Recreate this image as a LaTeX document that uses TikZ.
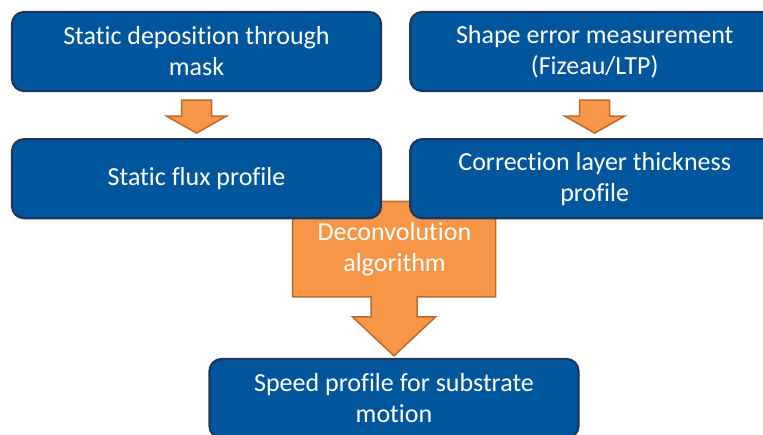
\documentclass[tikz,border=0pt]{standalone}
\usepackage{fontspec}
\setmainfont{Carlito}[Ligatures=NoCommon]
\usepackage{tikz}
\usetikzlibrary{positioning, calc, backgrounds}
\definecolor{myblue}{RGB}{0,86,157}
\definecolor{mynavy}{RGB}{30,55,95}
\definecolor{myorange}{RGB}{247,150,70}
\definecolor{myrust}{RGB}{186,108,48}
\tikzset{
  block/.style={rectangle, draw=mynavy, fill=myblue, text=white,
    minimum width=369pt, minimum height=79pt, align=center,
    font=\fontsize{26}{31}\selectfont, rounded corners=12pt, line width=2.2pt},
  fatarrow/.style={draw=myrust, fill=myorange, line width=1.5pt, line join=miter},
  arrowtext/.style={text=white, align=center, font=\fontsize{26}{31}\selectfont}
}
\newcommand{\smallarrow}[2]{%
  \draw[fatarrow] let \p1=(#1.south), \p2=(#2.north) in
    (\x1-15pt,\y1-8pt) -- (\x1+15pt,\y1-8pt) -- (\x1+15pt,\y2+22pt)
    -- (\x1+30pt,\y2+22pt) -- (\x1,\y2+5pt) -- (\x1-30pt,\y2+22pt)
    -- (\x1-15pt,\y2+22pt) -- cycle;}

\begin{document}
\begin{tikzpicture}[x=1pt, y=1pt, node distance=46pt and 27pt]
  \useasboundingbox (0,0) rectangle (763,434);
  \clip (0,0) rectangle (763,434);
  \node[block] (dep) at (196.5,382.5) {Static deposition through\\mask};
  \node[block, right=of dep] (meas) {Shape error measurement\\(Fizeau/LTP)};
  \node[block, below=of dep] (flux) {Static flux profile};
  \node[block, below=of meas] (corr) {Correction layer thickness\\profile};
  \node[block] (speed) at (394,35.5) {Speed profile for substrate\\motion};
  \node[arrowtext] (deconv) at (394.5,184.5) {Deconvolution\\algorithm};

  \smallarrow{dep}{flux}
  \smallarrow{meas}{corr}

  \begin{pgfonlayer}{background}
    \fill[white] (0,0) rectangle (763,434);
    \draw[fatarrow] let \p1=(flux.south), \p2=(speed.north) in
      (\x2-101.5pt,\y1+18pt) -- (\x2+101.5pt,\y1+18pt) -- (\x2+101.5pt,\y2+61pt)
      -- (\x2+23pt,\y2+61pt) -- (\x2+23pt,\y2+41pt) -- (\x2+41.5pt,\y2+41pt)
      -- (\x2,\y2+2pt) -- (\x2-41.5pt,\y2+41pt) -- (\x2-23pt,\y2+41pt)
      -- (\x2-23pt,\y2+61pt) -- (\x2-101.5pt,\y2+61pt) -- cycle;
  \end{pgfonlayer}
\end{tikzpicture}
\end{document}
